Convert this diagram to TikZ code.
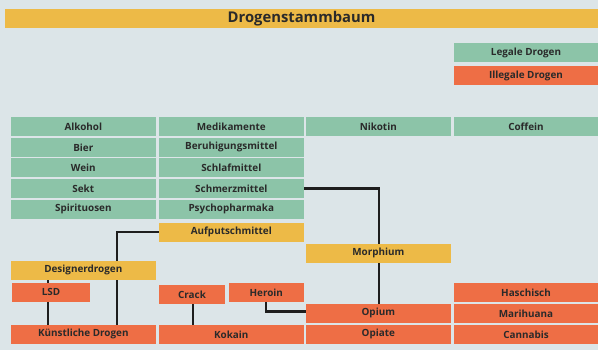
\documentclass[tikz,border=0pt]{standalone}
\usepackage{fontspec}
\setmainfont{Open Sans}
\usetikzlibrary{positioning}
\definecolor{grund}{HTML}{DCE5E8}
\definecolor{gruen}{HTML}{8CC4A8}
\definecolor{rot}{HTML}{EE6E45}
\definecolor{gelb}{HTML}{EDBA47}
\definecolor{schrift}{HTML}{2A2A2A}
\definecolor{strich}{HTML}{1E1E1E}
\pgfdeclarelayer{hintergrund}
\pgfdeclarelayer{linien}
\pgfsetlayers{hintergrund,linien,main}

\begin{document}
\begin{tikzpicture}[x=1pt,y=-1pt]
\tikzstyle{kasten}=[
        rectangle,
        inner sep=0pt,
        minimum width=144.7pt,
        minimum height=18.7pt,
        text=schrift,
        font=\bfseries\fontsize{9.9}{10}\selectfont
]
\tikzstyle{legal}=[kasten,fill=gruen]
\tikzstyle{illegal}=[kasten,fill=rot]
\tikzstyle{misch}=[kasten,fill=gelb]
\tikzstyle{linie}=[line width=2.2pt,draw=strich]
%hintergrund
\useasboundingbox (0,0) rectangle (598,350);
\begin{pgfonlayer}{hintergrund}
\fill[grund] (0,0) rectangle (598,350);
\end{pgfonlayer}
%titelundlegende
\node[misch,minimum width=593pt,font=\bfseries\fontsize{14.8}{16}\selectfont] (titel) at (301.5,18.3) {Drogenstammbaum};
\node[legal,minimum width=144pt] (legale) at (526,52.5) {Legale Drogen};
\node[illegal,minimum width=144pt] (illegale) at (526,75.5) {Illegale Drogen};
%legaledrogen
\node[legal] (alkohol) at (83.3,126.3) {Alkohol};
\node[legal] (bier) at (83.3,147.3) {Bier};
\node[legal] (wein) at (83.3,167.3) {Wein};
\node[legal] (sekt) at (83.3,188.5) {Sekt};
\node[legal] (spirit) at (83.3,209.3) {Spirituosen};
\node[legal] (medik) at (231.3,126.3) {Medikamente};
\node[legal] (beruhig) at (231.3,147.3) {Beruhigungsmittel};
\node[legal] (schlaf) at (231.3,167.3) {Schlafmittel};
\node[legal] (schmerz) at (231.3,188.5) {Schmerzmittel};
\node[legal] (psycho) at (231.3,209.3) {Psychopharmaka};
\node[legal] (nikotin) at (378.3,126.3) {Nikotin};
\node[legal,minimum width=144pt] (coffein) at (526,126.3) {Coffein};
%mischformen
\node[misch] (aufputsch) at (231.3,232.3) {Aufputschmittel};
\node[misch] (morphium) at (378.3,253.3) {Morphium};
\node[misch] (designer) at (83.3,270.3) {Designerdrogen};
%illegaledrogen
\node[illegal,minimum width=78pt] (lsd) at (51,292.3) {LSD};
\node[illegal,minimum width=66pt] (crack) at (192,294.3) {Crack};
\node[illegal,minimum width=74.7pt] (heroin) at (266.3,292.3) {Heroin};
\node[illegal,minimum width=144pt] (haschisch) at (526,292.5) {Haschisch};
\node[illegal] (opium) at (378.3,313.3) {Opium};
\node[illegal,minimum width=144pt] (marihuana) at (526,313.3) {Marihuana};
\node[illegal] (kuenstlich) at (83.3,334.3) {Künstliche Drogen};
\node[illegal] (kokain) at (231.3,334.3) {Kokain};
\node[illegal] (opiate) at (378.3,334.3) {Opiate};
\node[illegal,minimum width=144pt] (cannabis) at (526,334.3) {Cannabis};
%verbindungen
\begin{pgfonlayer}{linien}
\draw[linie] (schmerz.east) -| ([xshift=1pt]opium.north);
\draw[linie] (aufputsch.west) -| ([xshift=33.4pt]kuenstlich.north);
\draw[linie] ([xshift=-35pt]designer.south) -- ([xshift=-35pt]kuenstlich.north);
\draw[linie] ([xshift=1.3pt]crack.south) -- ([xshift=-38pt]kokain.north);
\draw[linie] (heroin.south) |- ([yshift=1.7pt]opium.west);
\end{pgfonlayer}
\end{tikzpicture}
\end{document}
